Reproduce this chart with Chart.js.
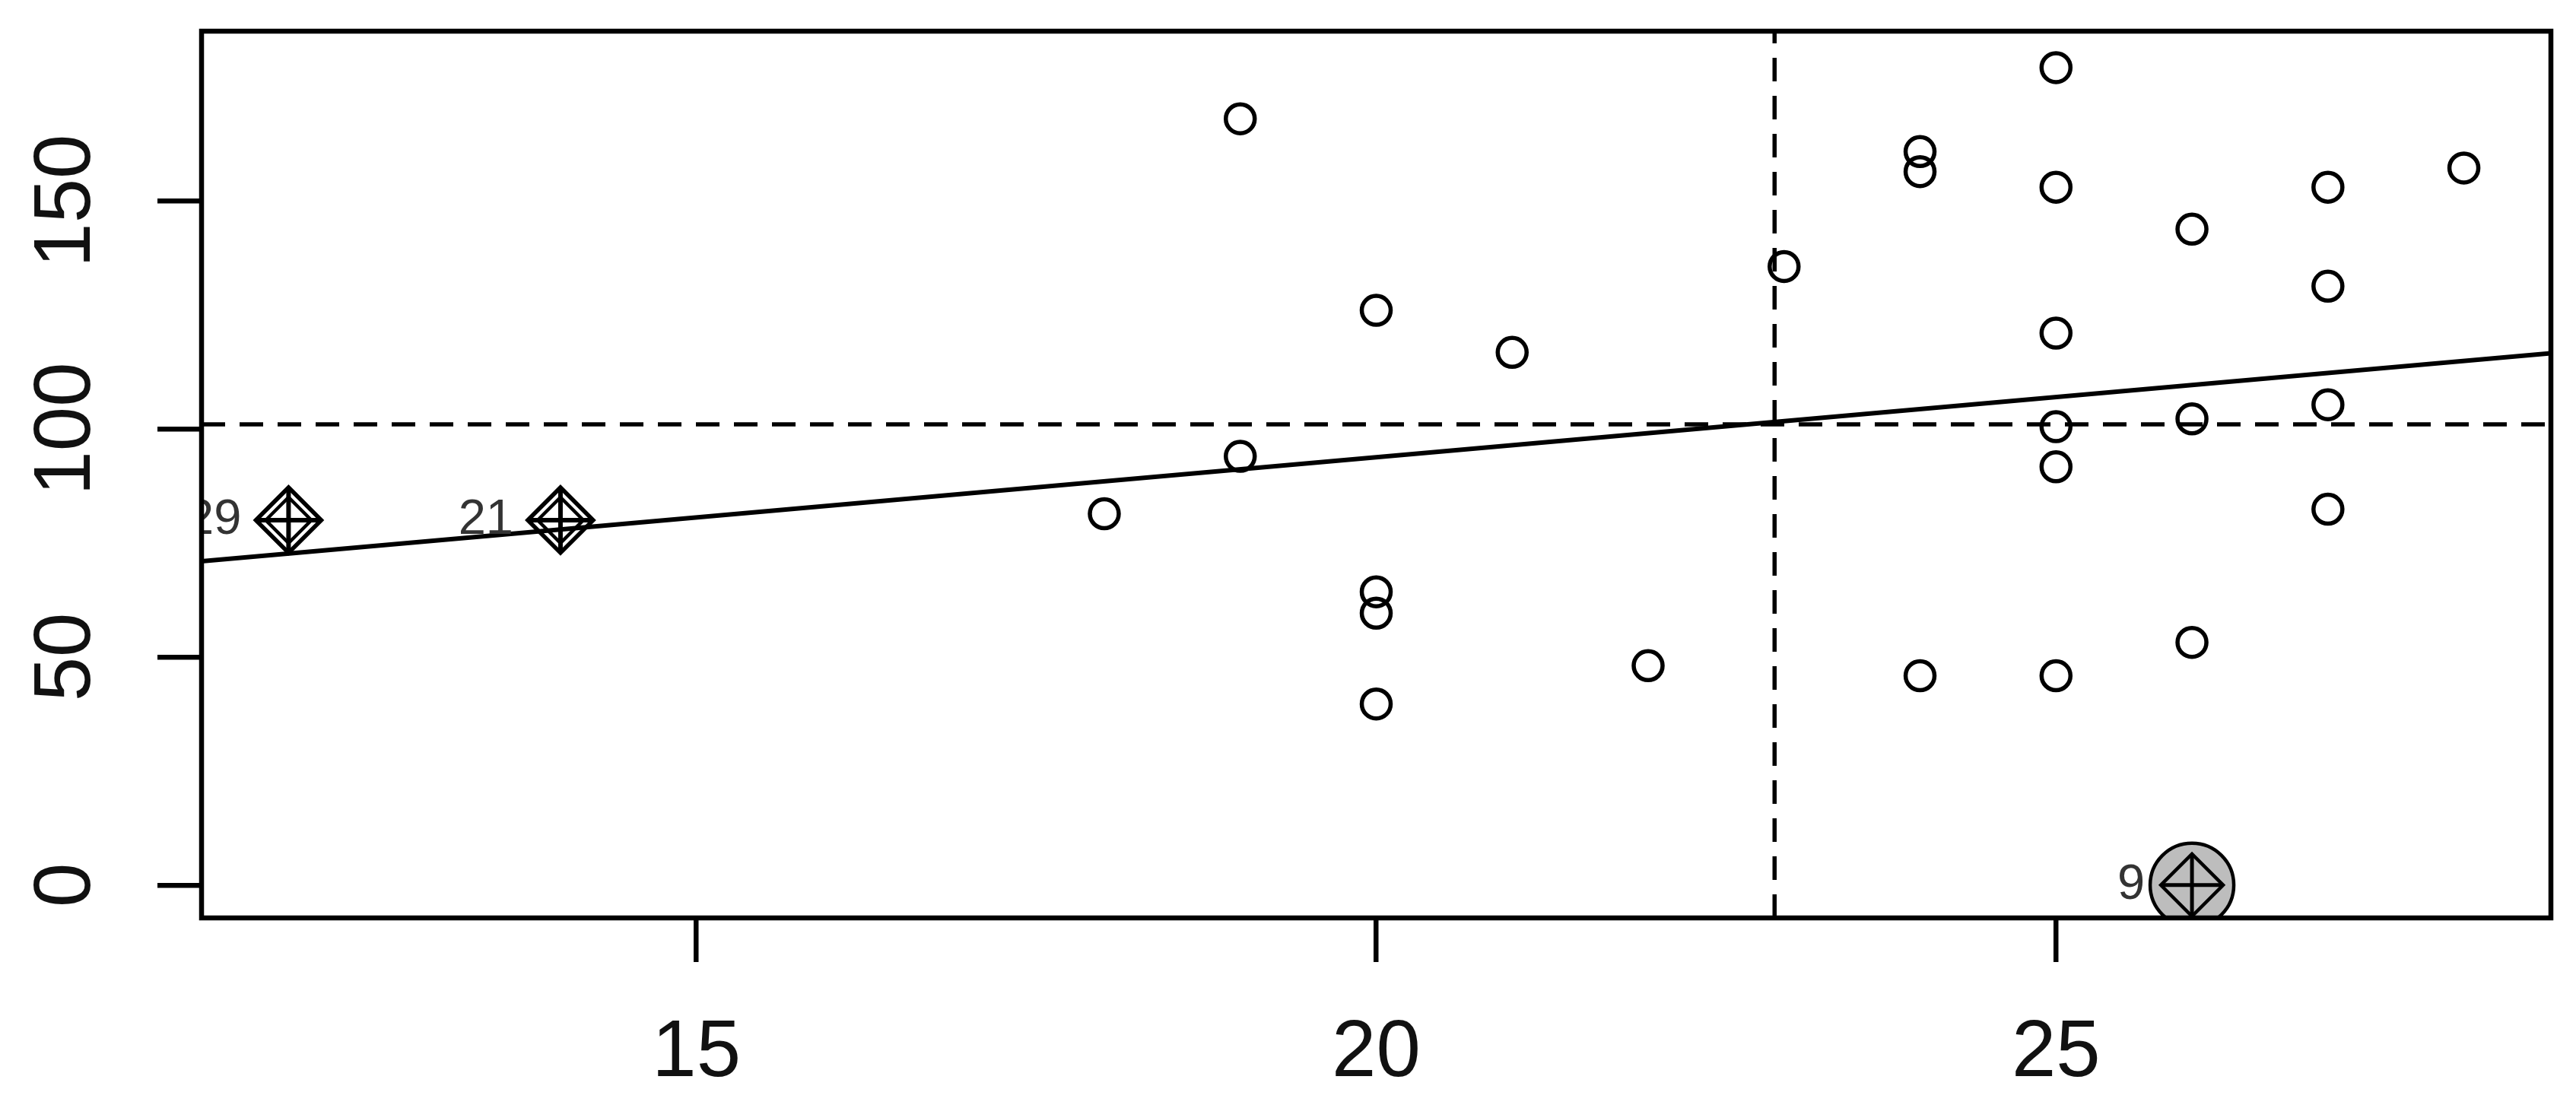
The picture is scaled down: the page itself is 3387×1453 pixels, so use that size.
<!DOCTYPE html>
<html>
<head>
<meta charset="utf-8">
<script src="https://cdn.jsdelivr.net/npm/chart.js@4.4.1/dist/chart.umd.min.js"></script>
<style>
  html, body { margin: 0; padding: 0; background: #ffffff; }
  #c { display: block; }
</style>
</head>
<body>
<canvas id="c" width="3387" height="1453"></canvas>
<script>
// ---------- data ----------
const obsX = [18, 19, 19, 20, 20, 20, 20, 21, 22, 23, 24, 24, 24, 25, 25, 25, 25, 25, 25, 26, 26, 26, 27, 27, 27, 27, 28];
const obsY = [81.4, 168, 94, 126, 64.3, 59.6, 39.7, 116.8, 48.1, 135.6, 160.8, 156.4, 45.9, 179.2, 153, 121, 100.5, 91.7, 45.9, 143.8, 102.2, 53.2, 153, 131.3, 105.3, 82.4, 157.2];

// labelled (influential) observations
const idLabels = ["29", "21", "9"];
const idX = [12, 14, 26];
const idY = [80, 80, 0];
const idBig = [false, false, true];   // drawn with a large grey bubble

// fitted regression line (end points at the plot edges)
const regX = [11.36, 28.64];
const regY = [71.0, 116.6];

// dashed reference lines (means)
const meanX = 22.93;
const meanY = 101.0;

// axis ranges and ticks
const xRange = [11.36, 28.64];
const yRange = [-7.2, 187.2];
const xTickStep = 5;
const yTickValues = [0, 50, 100, 150];
const yTickLabels = ["0", "50", "100", "150"];

// ---------- build ----------
const FONT = "'Liberation Sans', Arial, Helvetica, sans-serif";
const pts = (xs, ys) => xs.map((x, i) => ({ x: x, y: ys[i] }));

const bigIdx = idX.map((_, i) => i).filter(i => idBig[i]);
const smallIdx = idX.map((_, i) => i).filter(i => !idBig[i]);

// lower "order" is drawn on top
const datasets = [
  {
    label: 'fit', type: 'line', order: 1, data: pts(regX, regY),
    borderColor: '#000', borderWidth: 6, pointRadius: 0, fill: false, showLine: true, tension: 0
  },
  {
    label: 'meanY', type: 'line', order: 1, data: pts(xRange, [meanY, meanY]),
    borderColor: '#000', borderWidth: 5.5, borderDash: [31, 19], pointRadius: 0, fill: false, showLine: true
  },
  {
    label: 'meanX', type: 'line', order: 1, data: pts([meanX, meanX], yRange),
    borderColor: '#000', borderWidth: 5.5, borderDash: [31, 19], pointRadius: 0, fill: false, showLine: true
  },
  {
    label: 'obs', order: 2, data: pts(obsX, obsY),
    pointStyle: 'circle', pointRadius: 19, pointBorderWidth: 5.5,
    pointBackgroundColor: 'rgba(0,0,0,0)', pointBorderColor: '#000'
  },
  {
    label: 'bubble', order: 10, data: bigIdx.map(i => ({ x: idX[i], y: idY[i] })),
    pointStyle: 'circle', pointRadius: 55, pointBorderWidth: 4.5,
    pointBackgroundColor: '#bdbdbd', pointBorderColor: '#000'
  },
  {
    label: 'diamondOuter', order: 3, data: smallIdx.map(i => ({ x: idX[i], y: idY[i] })),
    pointStyle: 'rectRot', pointRadius: 43, pointBorderWidth: 5.5,
    pointBackgroundColor: 'rgba(0,0,0,0)', pointBorderColor: '#000'
  },
  {
    label: 'diamondInner', order: 3, data: smallIdx.map(i => ({ x: idX[i], y: idY[i] })),
    pointStyle: 'rectRot', pointRadius: 30, pointBorderWidth: 4.5,
    pointBackgroundColor: 'rgba(0,0,0,0)', pointBorderColor: '#000'
  },
  {
    label: 'crossSmall', order: 3, data: smallIdx.map(i => ({ x: idX[i], y: idY[i] })),
    pointStyle: 'cross', pointRadius: 43, pointBorderWidth: 6,
    pointBorderColor: '#000'
  },
  {
    label: 'diamondBig', order: 3, data: bigIdx.map(i => ({ x: idX[i], y: idY[i] })),
    pointStyle: 'rectRot', pointRadius: 41, pointBorderWidth: 4.5,
    pointBackgroundColor: 'rgba(0,0,0,0)', pointBorderColor: '#000'
  },
  {
    label: 'crossBig', order: 3, data: bigIdx.map(i => ({ x: idX[i], y: idY[i] })),
    pointStyle: 'cross', pointRadius: 41, pointBorderWidth: 5,
    pointBorderColor: '#000'
  }
];

const framePlugin = {
  id: 'frame',
  afterDatasetsDraw(chart) {
    const { ctx, chartArea: a, scales } = chart;
    // point id labels, clipped to the plot region
    ctx.save();
    ctx.beginPath();
    ctx.rect(a.left, a.top, a.right - a.left, a.bottom - a.top);
    ctx.clip();
    ctx.font = '65px ' + FONT;
    ctx.fillStyle = '#333';
    ctx.textAlign = 'right';
    ctx.textBaseline = 'middle';
    idLabels.forEach((t, i) => {
      const px = scales.x.getPixelForValue(idX[i]);
      const py = scales.y.getPixelForValue(idY[i]);
      ctx.fillText(t, px - 62, py);
    });
    ctx.restore();

    // plot box
    ctx.save();
    ctx.strokeStyle = '#000';
    ctx.lineWidth = 6.5;
    ctx.strokeRect(a.left, a.top, a.right - a.left, a.bottom - a.top);
    ctx.restore();

    // rotated y tick labels (R style, parallel to the axis)
    ctx.save();
    ctx.font = '105px ' + FONT;
    ctx.fillStyle = '#111';
    ctx.textAlign = 'center';
    ctx.textBaseline = 'middle';
    yTickValues.forEach((v, i) => {
      const py = scales.y.getPixelForValue(v);
      ctx.save();
      ctx.translate(89, py);
      ctx.rotate(-Math.PI / 2);
      ctx.fillText(yTickLabels[i], 0, 0);
      ctx.restore();
    });
    ctx.restore();
  }
};

new Chart(document.getElementById('c').getContext('2d'), {
  type: 'scatter',
  data: { datasets: datasets },
  options: {
    responsive: false,
    animation: false,
    events: [],
    layout: { autoPadding: false, padding: { left: 0, top: 41, right: 33, bottom: 0 } },
    plugins: { legend: { display: false }, tooltip: { enabled: false } },
    scales: {
      x: {
        type: 'linear', position: 'bottom',
        min: xRange[0], max: xRange[1],
        border: { display: false },
        grid: { display: true, drawOnChartArea: false, drawTicks: true, tickLength: 58, lineWidth: 6.5, color: '#000' },
        ticks: {
          stepSize: xTickStep, includeBounds: false, autoSkip: false,
          maxRotation: 0, minRotation: 0,
          padding: 58, color: '#111', font: { family: FONT, size: 105 }
        },
        afterFit(s) { s.height = 246; }
      },
      y: {
        type: 'linear', position: 'left',
        min: yRange[0], max: yRange[1],
        border: { display: false },
        grid: { display: true, drawOnChartArea: false, drawTicks: true, tickLength: 58, lineWidth: 6.5, color: '#000' },
        ticks: { stepSize: 50, includeBounds: false, display: false },
        afterFit(s) { s.width = 265; }
      }
    }
  },
  plugins: [framePlugin]
});
</script>
</body>
</html>
